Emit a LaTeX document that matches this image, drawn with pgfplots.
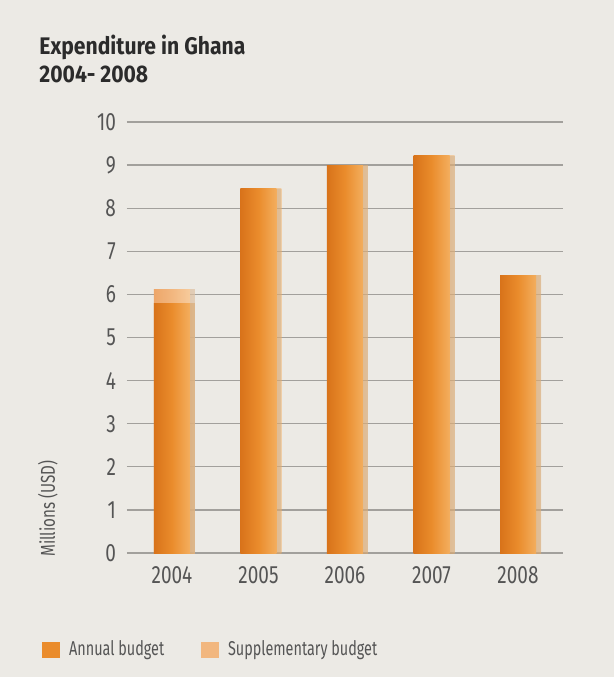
\documentclass[border=0pt]{standalone}
\usepackage{pgfplots}
\pgfplotsset{compat=1.18}
\usepackage{fontspec}
\setmainfont{Fira Sans}
\newfontfamily\condfont{Fira Sans}[FakeStretch=0.76]
\newfontfamily\legfont{Fira Sans}[FakeStretch=0.72]
\newfontfamily\titlefont{Fira Sans}[FakeStretch=0.88]
\definecolor{bg}{HTML}{ECEAE5}
\definecolor{titlec}{HTML}{2B2B2B}
\definecolor{tickc}{HTML}{555555}
\definecolor{gridc}{HTML}{A2A09C}
\definecolor{orD}{HTML}{D8731A}
\definecolor{orM}{HTML}{EA8C2C}
\definecolor{orL}{HTML}{F3AE5E}
\definecolor{spD}{HTML}{EDA66A}
\definecolor{spM}{HTML}{F2B77F}
\definecolor{spL}{HTML}{F7CB9C}
\pgfplotsset{
  annual/.style={ybar, bar width=18pt, bar shift=0pt, draw=none, forget plot,
    left color=orD, right color=orL, middle color=orM,
    preaction={fill=black!30, opacity=0.45, transform canvas={xshift=2.5pt}}},
  supp/.style={ybar, bar width=18pt, bar shift=0pt, draw=none, forget plot,
    left color=spD, right color=spL, middle color=spM,
    preaction={fill=black!30, opacity=0.45, transform canvas={xshift=2.5pt}}},
}
\begin{document}
\begin{tikzpicture}
\fill[bg] (0,0) rectangle (307pt,338.5pt);
\useasboundingbox (0,0) rectangle (307pt,338.5pt);
\node[anchor=north west, align=left, inner sep=0pt, text=titlec,
      font=\titlefont\bfseries\fontsize{12}{14}\selectfont] at (19.5pt,321pt)
      {Expenditure in Ghana\\2004- 2008};
\node[rotate=90, anchor=base west, inner sep=0pt, text=tickc,
      font=\condfont\fontsize{10}{12}\selectfont] at (27.5pt,60pt) {Millions (USD)};
\begin{axis}[
  at={(63.5pt,62pt)}, anchor=south west,
  scale only axis, width=218pt, height=215.5pt,
  xmin=-0.52, xmax=4.52, ymin=0, ymax=10,
  axis line style={draw=none},
  major tick length=0pt,
  xtick={0,1,2,3,4},
  xticklabels={2004,2005,2006,2007,2008},
  ytick={0,1,2,3,4,5,6,7,8,9,10},
  /pgf/number format/assume math mode=true,
  ymajorgrids, grid style={gridc, line width=0.65pt},
  tick label style={font=\condfont\fontsize{12.5}{13}\selectfont, text=tickc},
  xticklabel style={yshift=-3pt},
  yticklabel style={xshift=-2pt},
  legend style={at={(-0.195,-0.225)}, anchor=west, draw=none, fill=none,
    legend columns=2, inner sep=0pt,
    font=\legfont\fontsize{10}{12}\selectfont, text=tickc,
    /tikz/every even column/.append style={column sep=14pt},
    cells={anchor=west}, nodes={inner xsep=4.5pt}},
]
\addplot[supp] coordinates {(0,6.12)};
\addplot[annual] coordinates {(0,5.8)};
\addplot[annual] coordinates {(1,8.45)};
\addplot[annual] coordinates {(2,9.0)};
\addplot[annual] coordinates {(3,9.22)};
\addplot[annual] coordinates {(4,6.45)};
\addlegendimage{legend image code/.code={\fill[orM] (0pt,-3.75pt) rectangle (8.5pt,3.75pt);}}
\addlegendentry{Annual budget}
\addlegendimage{legend image code/.code={\fill[spM] (0pt,-3.75pt) rectangle (8.5pt,3.75pt);}}
\addlegendentry{Supplementary budget}
\end{axis}
\end{tikzpicture}
\end{document}
